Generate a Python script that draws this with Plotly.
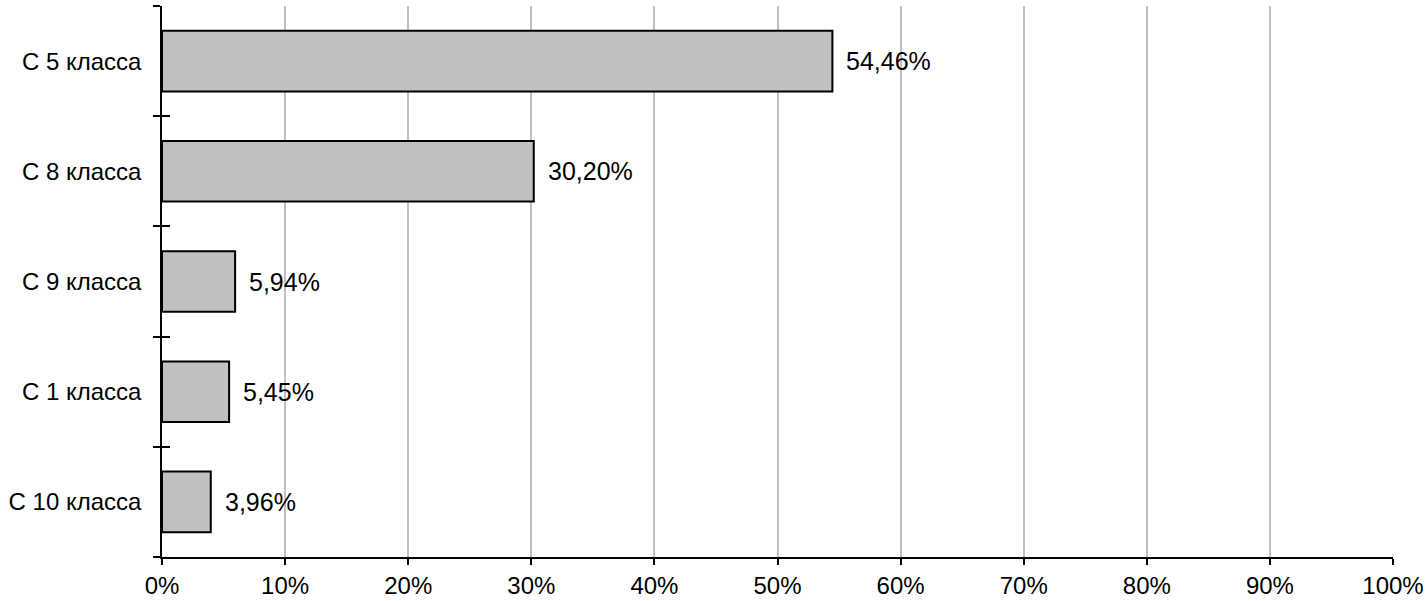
import plotly.graph_objects as go

categories = ["С 5 класса", "С 8 класса", "С 9 класса", "С 1 класса", "С 10 класса"]
values = [54.46, 30.20, 5.94, 5.45, 3.96]
x_ticks = [0, 10, 20, 30, 40, 50, 60, 70, 80, 90, 100]

FONT = "Liberation Sans, Arial, sans-serif"

fig = go.Figure()
fig.add_trace(go.Bar(
    y=categories, x=values, orientation="h",
    marker=dict(color="#c0c0c0", line=dict(color="black", width=2)),
    hoverinfo="skip",
))
# dummy trace on second y axis to draw crossing boundary ticks
fig.add_trace(go.Bar(y=categories, x=[None]*len(categories), orientation="h",
                     yaxis="y2", showlegend=False, hoverinfo="skip"))

for c, v in zip(categories, values):
    fig.add_annotation(x=v, y=c, text=f"{v:.2f}%".replace(".", ","),
                       xanchor="left", yanchor="middle", xshift=12, showarrow=False,
                       font=dict(family=FONT, size=25, color="black"))

fig.update_layout(
    width=1427, height=601,
    margin=dict(l=162, r=34, t=6, b=44, autoexpand=False),
    paper_bgcolor="white", plot_bgcolor="white",
    showlegend=False, bargap=0.45,
    font=dict(family=FONT, size=24, color="black"),
    xaxis=dict(range=[0, 100], tickvals=x_ticks, ticktext=[f"{t}%" for t in x_ticks],
               showgrid=True, gridcolor="#c0c0c0", gridwidth=1.5,
               showline=True, linecolor="black", linewidth=1.5,
               ticks="outside", ticklen=6, tickcolor="black", tickwidth=1.5,
               zeroline=False, fixedrange=True, automargin=False),
    yaxis=dict(categoryorder="array", categoryarray=categories[::-1],
               showline=True, linecolor="black", linewidth=1.5,
               ticks="outside", ticklen=7, tickcolor="black", tickwidth=1.5,
               tickson="boundaries", ticklabelstandoff=14,
               showgrid=False, zeroline=False, fixedrange=True, automargin=False),
    yaxis2=dict(overlaying="y", side="left", categoryorder="array",
                categoryarray=categories[::-1], matches="y",
                ticks="inside", ticklen=8, tickcolor="black", tickwidth=1.5,
                tickson="boundaries", showticklabels=False, showgrid=False,
                showline=False, zeroline=False, automargin=False),
)

fig.write_html("out.html", config={"displayModeBar": False},
               post_script="document.body.style.margin='0';document.body.style.overflow='hidden';")
